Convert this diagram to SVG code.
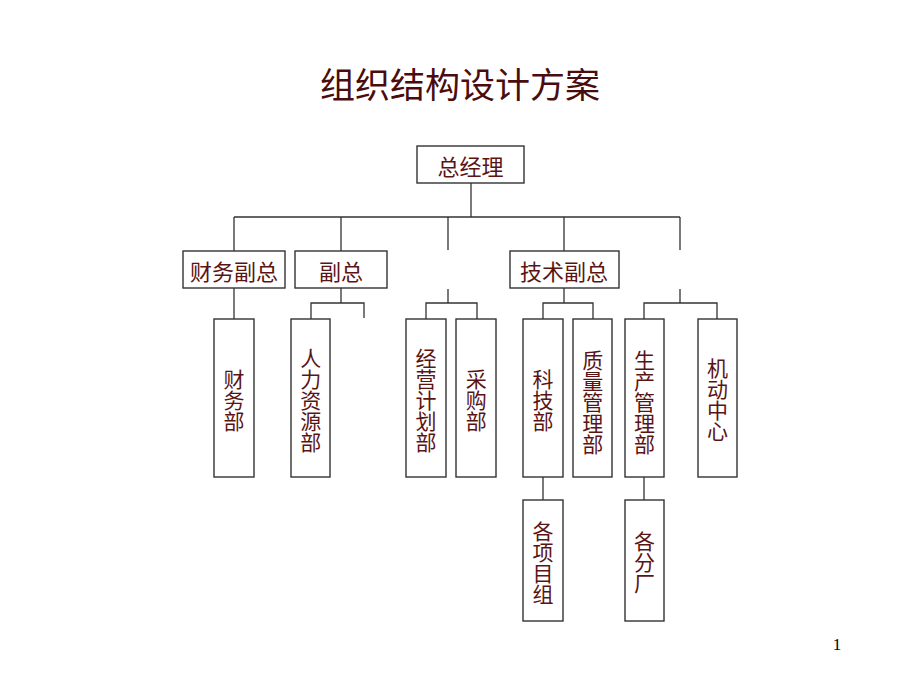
<svg xmlns="http://www.w3.org/2000/svg" width="920" height="690" viewBox="0 0 920 690">
<style>
.box{fill:#fff;stroke:#333;stroke-width:1.4}
.t{font-family:"Noto Sans CJK SC","Noto Sans CJK JP",sans-serif;font-size:21px;fill:#5a1414;text-anchor:middle;writing-mode:vertical-rl;glyph-orientation-vertical:0}
.h{font-family:"Noto Sans CJK SC","Noto Sans CJK JP",sans-serif;font-size:22px;fill:#5a1414;text-anchor:middle;dominant-baseline:central}
.ln{fill:none;stroke:#333;stroke-width:1.3}
</style>
<rect width="920" height="690" fill="#fff"/>
<text x="460" y="82" font-family="'Noto Sans CJK SC','Noto Sans CJK JP',sans-serif" font-size="35" fill="#4a0c0c" text-anchor="middle" dominant-baseline="central">组织结构设计方案</text>
<g id="connectors">
<path class="ln" stroke-width="2.2" d="M471,183 V217"/>
<path class="ln" d="M234,217 H680 M234,217 V251 M341,217 V251 M448,217 V250 M564,217 V251 M680,217 V250"/>
<path class="ln" d="M234,288 V319"/>
<path class="ln" d="M341,288 V303 M311,319 V303 H364 V318"/>
<path class="ln" d="M448,289 V303 M426,319 V303 H477 V319"/>
<path class="ln" d="M564,288 V303 M543,319 V303 H593 V319"/>
<path class="ln" d="M680,289 V303 M644,319 V303 H717 V319"/>
<path class="ln" d="M543,477 V500 M644,477 V500"/>
</g>
<g id="n-zjl"><rect class="box" x="417" y="146" width="107" height="37"/><text class="h" x="470.5" y="165">总经理</text></g>
<g id="n-cwfz"><rect class="box" x="183" y="251" width="102" height="37"/><text class="h" x="234" y="270">财务副总</text></g>
<g id="n-fz"><rect class="box" x="295" y="251" width="92" height="37"/><text class="h" x="341" y="270">副总</text></g>
<g id="n-jsfz"><rect class="box" x="510" y="251" width="109" height="37"/><text class="h" x="564" y="270">技术副总</text></g>
<g id="n-cwb"><rect class="box" x="214" y="319" width="40" height="158"/><text class="t" x="234" y="400">财务部</text></g>
<g id="n-rlzyb"><rect class="box" x="291" y="319" width="39" height="158"/><text class="t" x="310.7" y="400">人力资源部</text></g>
<g id="n-jyjhb"><rect class="box" x="406" y="319" width="40" height="158"/><text class="t" x="426" y="400">经营计划部</text></g>
<g id="n-cgb"><rect class="box" x="456" y="319" width="40" height="158"/><text class="t" x="476.3" y="400">采购部</text></g>
<g id="n-kjb"><rect class="box" x="523" y="319" width="40" height="158"/><text class="t" x="543" y="400">科技部</text></g>
<g id="n-zlglb"><rect class="box" x="573" y="319" width="39" height="158"/><text class="t" x="592.7" y="402">质量管理部</text></g>
<g id="n-scglb"><rect class="box" x="625" y="319" width="39" height="158"/><text class="t" x="644.5" y="402">生产管理部</text></g>
<g id="n-jdzx"><rect class="box" x="698" y="319" width="39" height="158"/><text class="t" x="717.5" y="400">机动中心</text></g>
<g id="n-gxmz"><rect class="box" x="523" y="500" width="40" height="121"/><text class="t" x="543" y="562.5">各项目组</text></g>
<g id="n-gfc"><rect class="box" x="625" y="500" width="39" height="121"/><text class="t" x="644.5" y="562.5">各分厂</text></g>
<text x="837" y="650" font-family="'Liberation Serif',serif" font-size="17" fill="#000" text-anchor="middle">1</text>
</svg>
